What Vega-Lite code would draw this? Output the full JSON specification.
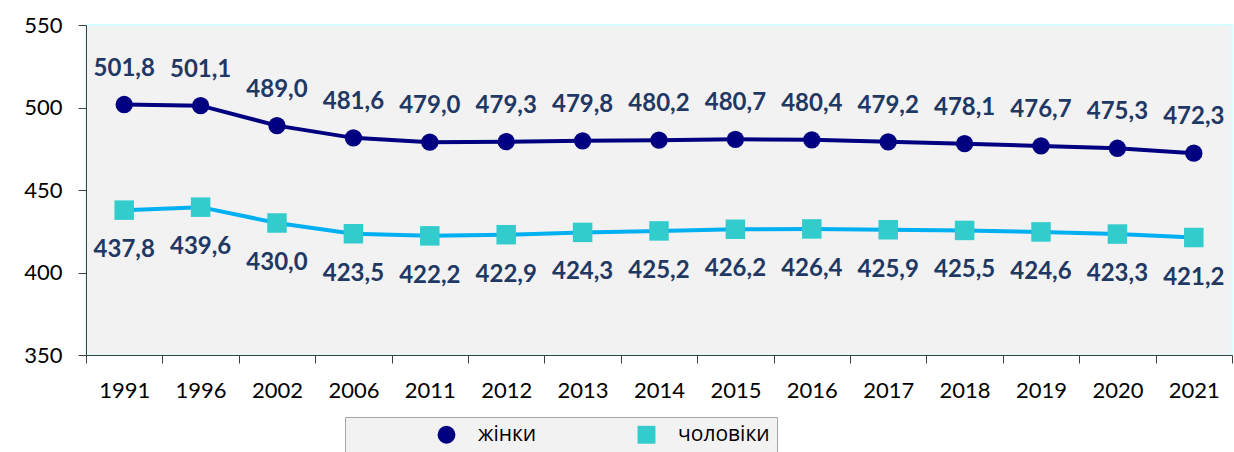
{
  "$schema": "https://vega.github.io/schema/vega-lite/v6.json",
  "width": 1146,
  "height": 330,
  "autosize": {"type": "none"},
  "padding": {"left": 86, "top": 25, "right": 2, "bottom": 97},
  "background": "white",
  "config": {
    "locale": {"number": {"decimal": ",", "thousands": " ", "grouping": [3], "currency": ["", ""]}},
    "view": {"fill": "#f2f2f2", "stroke": "#ccffff", "strokeWidth": 1.5},
    "axis": {"labelFont": "Lato", "labelFontSize": 22, "labelColor": "#000000", "domainColor": "#404040", "tickColor": "#404040", "tickSize": 8, "grid": false, "title": null}
  },
  "data": {"values": [
    {"year": "1991", "series": "жінки", "value": 501.8},
    {"year": "1996", "series": "жінки", "value": 501.1},
    {"year": "2002", "series": "жінки", "value": 489.0},
    {"year": "2006", "series": "жінки", "value": 481.6},
    {"year": "2011", "series": "жінки", "value": 479.0},
    {"year": "2012", "series": "жінки", "value": 479.3},
    {"year": "2013", "series": "жінки", "value": 479.8},
    {"year": "2014", "series": "жінки", "value": 480.2},
    {"year": "2015", "series": "жінки", "value": 480.7},
    {"year": "2016", "series": "жінки", "value": 480.4},
    {"year": "2017", "series": "жінки", "value": 479.2},
    {"year": "2018", "series": "жінки", "value": 478.1},
    {"year": "2019", "series": "жінки", "value": 476.7},
    {"year": "2020", "series": "жінки", "value": 475.3},
    {"year": "2021", "series": "жінки", "value": 472.3},
    {"year": "1991", "series": "чоловіки", "value": 437.8},
    {"year": "1996", "series": "чоловіки", "value": 439.6},
    {"year": "2002", "series": "чоловіки", "value": 430.0},
    {"year": "2006", "series": "чоловіки", "value": 423.5},
    {"year": "2011", "series": "чоловіки", "value": 422.2},
    {"year": "2012", "series": "чоловіки", "value": 422.9},
    {"year": "2013", "series": "чоловіки", "value": 424.3},
    {"year": "2014", "series": "чоловіки", "value": 425.2},
    {"year": "2015", "series": "чоловіки", "value": 426.2},
    {"year": "2016", "series": "чоловіки", "value": 426.4},
    {"year": "2017", "series": "чоловіки", "value": 425.9},
    {"year": "2018", "series": "чоловіки", "value": 425.5},
    {"year": "2019", "series": "чоловіки", "value": 424.6},
    {"year": "2020", "series": "чоловіки", "value": 423.3},
    {"year": "2021", "series": "чоловіки", "value": 421.2}
  ]},
  "encoding": {
    "x": {"field": "year", "type": "ordinal", "sort": null, "scale": {"paddingInner": 0, "paddingOuter": 0}, "axis": {"labelAngle": 0, "tickBand": "extent", "labelPadding": 17}},
    "y": {"field": "value", "type": "quantitative", "scale": {"domain": [350, 550], "nice": false, "zero": false}, "axis": {"values": [350, 400, 450, 500, 550], "labelPadding": 16}}
  },
  "layer": [
    {
      "transform": [{"filter": "datum.series === 'жінки'"}],
      "mark": {"type": "line", "strokeWidth": 4, "color": "#000080"},
      "encoding": {}
    },
    {
      "transform": [{"filter": "datum.series === 'чоловіки'"}],
      "mark": {"type": "line", "strokeWidth": 4, "color": "#00b0f0"},
      "encoding": {}
    },
    {
      "transform": [{"filter": "datum.series === 'жінки'"}],
      "mark": {"type": "point", "filled": true, "opacity": 1, "size": 300},
      "encoding": {
        "fill": {"field": "series", "type": "nominal", "scale": {"domain": ["жінки", "чоловіки"], "range": ["#000080", "#33cccc"]},
          "legend": {
            "orient": "none", "legendX": 259, "legendY": 392, "direction": "horizontal",
            "title": " ", "titleOrient": "left", "titleFontSize": 1, "titlePadding": 84,
            "padding": 7, "fillColor": "#f2f2f2", "strokeColor": "#a6a6a6",
            "symbolSize": 320, "symbolStrokeWidth": 0, "symbolOpacity": 1,
            "labelFont": "Open Sans", "labelFontSize": 21, "labelColor": "#000000", "labelOffset": 21,
            "columnPadding": 99
          }},
        "shape": {"field": "series", "type": "nominal", "scale": {"domain": ["жінки", "чоловіки"], "range": ["circle", "square"]}}
      }
    },
    {
      "transform": [{"filter": "datum.series === 'чоловіки'"}],
      "mark": {"type": "point", "filled": true, "opacity": 1, "size": 380},
      "encoding": {
        "fill": {"field": "series", "type": "nominal"},
        "shape": {"field": "series", "type": "nominal"}
      }
    },
    {
      "transform": [{"filter": "datum.series === 'жінки'"}],
      "mark": {"type": "text", "dy": -36, "font": "Lato", "fontWeight": "bold", "fontSize": 24, "fill": "#1f3864", "baseline": "middle"},
      "encoding": {"text": {"field": "value", "type": "quantitative", "format": ".1f"}}
    },
    {
      "transform": [{"filter": "datum.series === 'чоловіки'"}],
      "mark": {"type": "text", "dy": 40, "font": "Lato", "fontWeight": "bold", "fontSize": 24, "fill": "#1f3864", "baseline": "middle"},
      "encoding": {"text": {"field": "value", "type": "quantitative", "format": ".1f"}}
    }
  ]
}
